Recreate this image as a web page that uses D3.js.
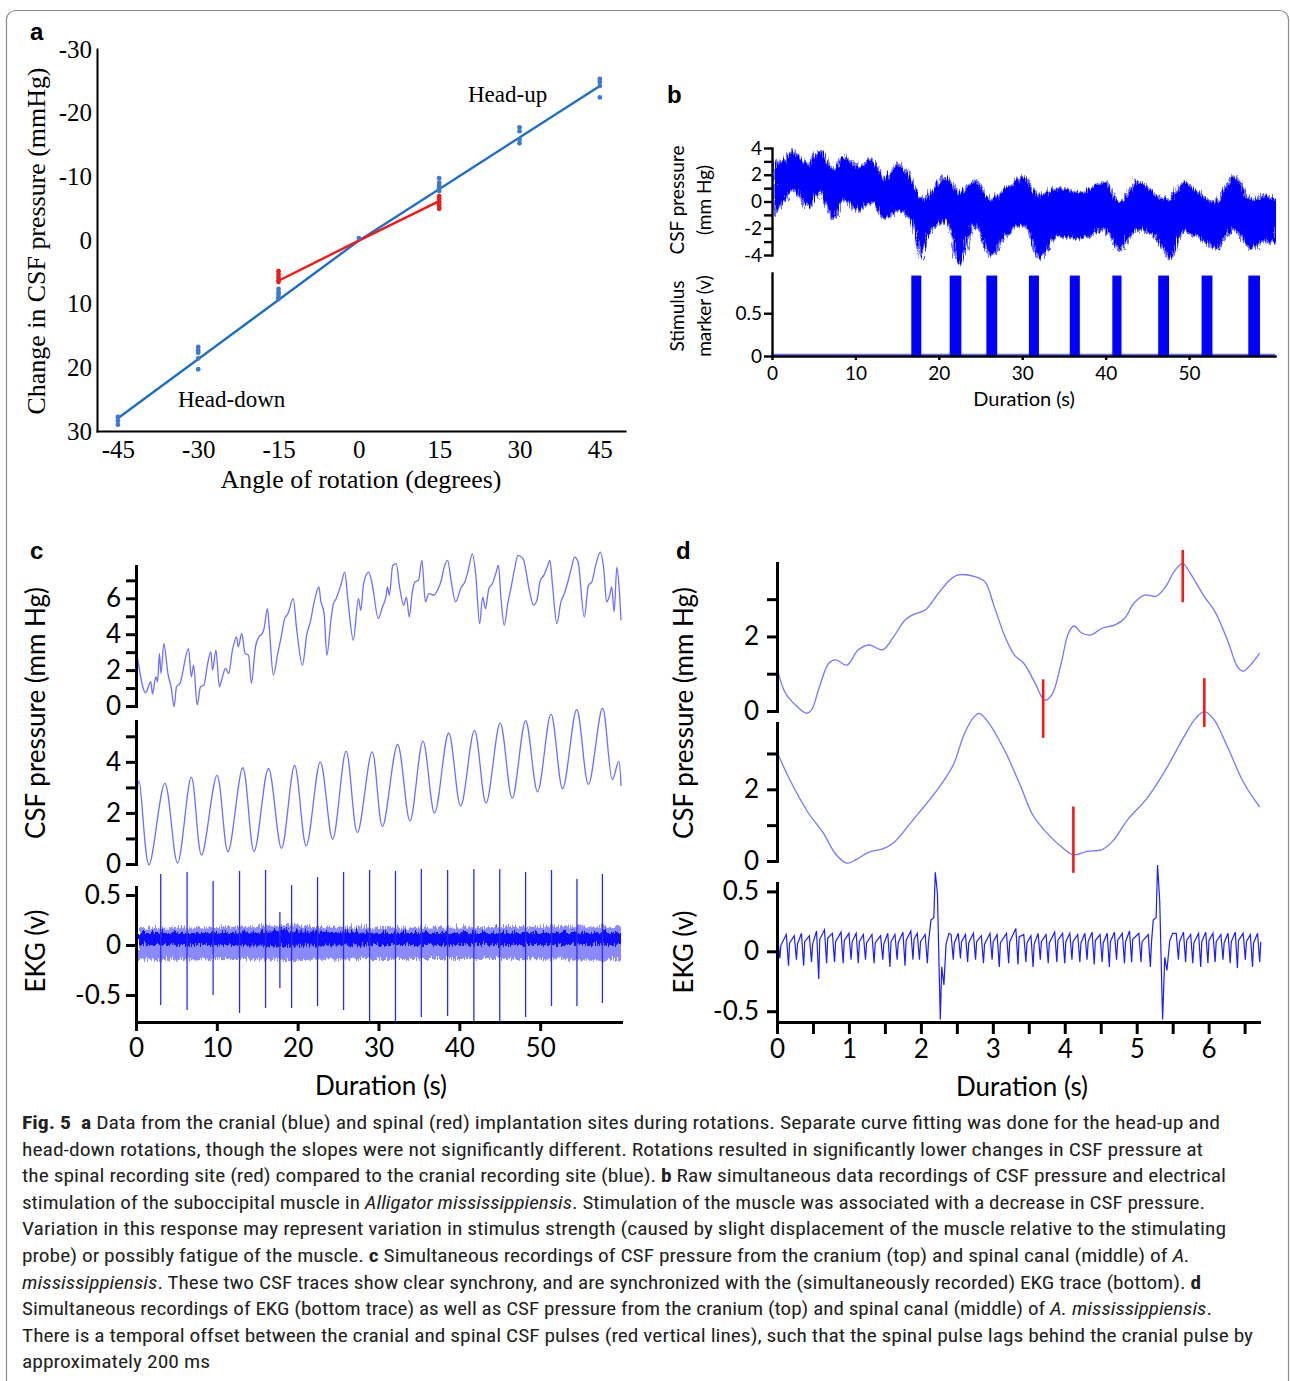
<!DOCTYPE html>
<html>
<head>
<meta charset="utf-8">
<title>Fig. 5</title>
<script src="https://cdnjs.cloudflare.com/ajax/libs/d3/7.8.5/d3.min.js"></script>
<style>
  body { margin: 0; background: #fff; }
  svg { display: block; }
</style>
</head>
<body>
<svg id="fig" width="1290" height="1381"></svg>
<script>
// ---------------- panel a : rotation vs CSF pressure ----------------
const angleTicks = [-45, -30, -15, 0, 15, 30, 45];
const pressureTicks = [-30, -20, -10, 0, 10, 20, 30];
const cranialPoints = [
  [-45, 27.8], [-45, 28.4], [-45, 29.0],
  [-30, 16.8], [-30, 17.3], [-30, 17.7], [-30, 18.6], [-30, 20.3],
  [-15, 7.7], [-15, 8.2], [-15, 8.6], [-15, 9.0], [-15, 9.3],
  [0, -0.3],
  [15, -9.7], [15, -9.0], [15, -8.5], [15, -8.1], [15, -7.7],
  [30, -17.7], [30, -17.1], [30, -15.8], [30, -15.2],
  [45, -25.3], [45, -24.8], [45, -24.2], [45, -22.4]
];
const spinalPoints = [
  [-15, 4.9], [-15, 5.4], [-15, 5.9], [-15, 6.3], [-15, 6.6],
  [15, -6.9], [15, -6.5], [15, -6.1], [15, -5.6], [15, -5.2], [15, -4.9]
];
const cranialFitDown = [[-45, 28.0], [0, 0.1]];
const cranialFitUp = [[0, 0.1], [45, -24.2]];
const spinalFit = [[-15, 6.4], [0, 0.1], [15, -6.1]];

// ---------------- panel b : stimulation ----------------
const bTime  = [0, 1.2, 2.3, 3.2, 4.0, 5.5, 7.0, 8.4, 9.9, 11.8, 13.1, 14.8, 16.7, 17.7, 18.6, 20.6, 22.2, 24.0,
                25.9, 27.7, 29.9, 31.8, 33.9, 36.8, 39.6, 41.3, 43.6, 45.8, 47.4, 49.0, 51.0, 52.9, 55.1, 57.2, 58.8, 60.3];
const bUpper = [3.1, 3.2, 4.0, 3.3, 3.0, 4.0, 2.6, 3.5, 2.8, 3.3, 1.8, 3.0, 1.6, 0.35, 0.8, 2.0, 0.8, 1.8,
                0.35, 1.1, 2.0, 0.6, 1.2, 0.8, 1.7, 0.1, 1.7, 0.6, 0.35, 1.6, 0.8, 0.1, 2.1, 0.35, 0.6, 0.35];
const bLower = [-0.8, 0.2, 1.0, 0.4, -0.3, 0.8, -1.1, 0.35, -0.5, 0.1, -1.1, -0.5, -1.6, -4.1, -2.1, -1.4, -4.5, -1.6,
                -3.9, -2.4, -1.6, -4.1, -2.4, -2.6, -1.9, -3.4, -1.9, -2.6, -4.1, -2.1, -2.6, -3.4, -1.9, -3.4, -2.8, -3.1];
const stimOn  = [16.7, 21.3, 25.7, 30.8, 35.7, 40.8, 46.3, 51.5, 57.1];
const stimOff = [17.9, 22.7, 27.0, 32.0, 36.9, 41.9, 47.6, 52.8, 58.5];
const stimLevel = 0.94;
const bTimeTicks = [0, 10, 20, 30, 40, 50];
const bCsfTicks = [-4, -3, -2, -1, 0, 1, 2, 3, 4];
const bStimTicks = [0, 0.5];

// ---------------- panel c : 60 s recordings ----------------
const cCranial = [
  [0.2, 2.65], [1.19, 0.74], [1.83, 1.35], [2.04, 0.67], [2.46, 1.63], [2.68, 1.35], [2.89, 2.93], [3.10, 1.81],
  [3.44, 3.48], [3.95, 1.81], [4.37, 0.98], [4.71, -0.04], [5.01, 1.07], [5.44, 1.26], [6.50, 3.20], [6.84, 1.63],
  [7.13, 2.28], [7.56, 0.06], [7.98, 1.07], [8.41, 1.17], [8.83, 2.28], [9.26, 3.02], [9.47, 2.00], [9.89, 3.11],
  [10.32, 1.07], [10.53, 1.35], [11.08, 2.09], [11.46, 1.81], [11.93, 3.11], [12.44, 3.85], [12.65, 3.30], [13.08, 4.04],
  [13.50, 2.93], [13.93, 2.83], [14.27, 1.26], [14.78, 3.30], [15.20, 3.85], [15.63, 4.04], [15.84, 4.31], [16.26, 5.43],
  [16.48, 4.41], [16.99, 1.72], [17.54, 2.93], [17.96, 3.85], [18.39, 4.87], [18.81, 5.15], [19.45, 5.98], [19.87, 4.31],
  [20.59, 2.28], [21.15, 4.04], [21.57, 4.69], [22.00, 5.70], [22.63, 6.63], [22.85, 5.89], [23.27, 5.15], [23.61, 2.83],
  [24.12, 4.78], [24.42, 5.70], [24.76, 5.98], [25.39, 6.81], [25.82, 7.46], [26.24, 5.80], [26.88, 3.67], [27.52, 5.98],
  [27.81, 5.33], [28.15, 6.81], [28.79, 7.46], [29.21, 6.81], [29.98, 4.87], [30.49, 5.52], [30.91, 6.07], [31.12, 6.63],
  [31.34, 6.17], [31.76, 7.83], [32.19, 7.93], [32.61, 6.63], [33.12, 5.61], [33.46, 6.07], [33.80, 4.96], [34.18, 6.35],
  [34.52, 6.91], [34.95, 7.00], [35.37, 8.11], [35.80, 5.80], [36.22, 6.26], [36.86, 6.17], [37.28, 6.44], [37.71, 6.91],
  [38.13, 7.74], [38.56, 8.11], [38.98, 7.00], [39.53, 5.80], [40.25, 6.63], [40.68, 6.91], [41.10, 7.56], [41.61, 8.48],
  [42.04, 7.28], [42.51, 4.59], [42.89, 6.07], [43.23, 5.43], [43.65, 6.54], [44.08, 6.81], [44.50, 7.37], [44.84, 7.83],
  [45.14, 6.07], [45.56, 4.50], [45.99, 5.70], [46.41, 6.63], [46.84, 7.65], [47.26, 8.39], [47.90, 8.20], [48.66, 6.44],
  [49.17, 5.61], [49.60, 5.89], [50.02, 7.00], [50.45, 7.28], [50.87, 7.74], [51.21, 8.11], [51.51, 6.81], [52.06, 4.59],
  [52.57, 5.80], [52.99, 6.26], [53.42, 6.91], [53.84, 7.65], [54.27, 8.30], [54.69, 8.02], [55.46, 4.96], [55.97, 6.72],
  [56.39, 6.91], [56.82, 7.74], [57.45, 8.57], [57.88, 7.56], [58.22, 5.80], [58.60, 6.17], [58.85, 6.63], [59.15, 5.24],
  [59.49, 7.74], [59.79, 6.44], [60.0, 4.78]
];
const cSpinal = [
  [0.0, 2.4], [0.38, 3.25], [1.61, -0.03], [3.57, 3.16], [5.14, 0.04], [6.84, 3.40], [8.11, 0.35], [10.02, 3.47],
  [11.38, 0.48], [13.21, 3.77], [14.61, 0.49], [16.39, 3.74], [18.00, 0.61], [19.62, 3.86], [21.06, 0.71], [22.80, 3.99],
  [24.33, 0.97], [25.99, 4.42], [27.39, 1.23], [29.21, 4.39], [30.49, 1.47], [32.36, 4.68], [33.89, 1.69], [35.50, 4.81],
  [36.94, 1.99], [38.68, 5.13], [40.17, 2.27], [41.87, 5.23], [43.31, 2.38], [45.05, 5.52], [46.54, 2.57], [48.20, 5.61],
  [49.68, 2.83], [51.34, 5.87], [52.78, 2.95], [54.52, 6.04], [55.97, 3.12], [57.71, 6.10], [58.94, 3.31], [59.7, 4.03],
  [60.0, 3.05]
];
const cBeatT   = [3.06, 6.32, 9.54, 12.81, 16.03, 17.8, 19.25, 22.46, 25.68, 28.9, 32.1, 35.3, 38.55, 41.8, 45.0, 48.2, 51.4, 54.55, 57.7];
const cBeatTop = [0.71, 0.73, 0.64, 0.74, 0.75, 0.33, 0.60, 0.68, 0.73, 0.75, 0.74, 0.76, 0.75, 0.76, 0.76, 0.73, 0.75, 0.66, 0.71];
const cBeatBot = [-0.60, -0.65, -0.50, -0.68, -0.63, -0.43, -0.63, -0.61, -0.65, -0.76, -0.76, -0.72, -0.71, -0.77, -0.77, -0.72, -0.61, -0.61, -0.58];
const cEkgT        = [0, 12, 17.5, 30, 45, 60];
const cEkgOuterTop = [0.19, 0.20, 0.22, 0.19, 0.20, 0.21];
const cEkgOuterBot = [-0.13, -0.12, -0.13, -0.12, -0.12, -0.13];
const cEkgCoreTop  = [0.15, 0.15, 0.17, 0.15, 0.15, 0.15];
const cEkgCoreBot  = [0.02, 0.02, 0.01, 0.02, 0.02, 0.02];
const cTimeTicks = [0, 10, 20, 30, 40, 50];
const cTopTicks = [0, 1, 2, 3, 4, 5, 6, 7];
const cMidTicks = [0, 1, 2, 3, 4, 5];
const ekgTicks = [-0.5, 0, 0.5];

// ---------------- panel d : 6.7 s recordings ----------------
const dCranial = [
  [0.0, 1.15], [0.12, 0.47], [0.28, 0.12], [0.41, -0.06], [0.48, 0.03], [0.59, 0.65], [0.72, 1.28], [0.82, 1.37],
  [0.97, 1.23], [1.13, 1.64], [1.28, 1.77], [1.47, 1.64], [1.62, 1.99], [1.78, 2.44], [1.91, 2.60], [2.06, 2.71],
  [2.24, 3.15], [2.40, 3.51], [2.52, 3.65], [2.76, 3.60], [2.89, 3.47], [3.02, 2.80], [3.17, 1.99], [3.30, 1.50],
  [3.43, 1.28], [3.59, 0.74], [3.72, 0.29], [3.82, 0.43], [3.95, 1.28], [4.05, 2.08], [4.13, 2.28], [4.23, 2.10],
  [4.36, 2.04], [4.52, 2.22], [4.70, 2.31], [4.83, 2.48], [4.96, 2.89], [5.11, 3.11], [5.27, 3.08], [5.40, 3.33],
  [5.52, 3.74], [5.64, 3.96], [5.73, 3.74], [5.94, 3.07], [6.09, 2.66], [6.27, 1.86], [6.40, 1.19], [6.48, 1.07],
  [6.58, 1.23], [6.71, 1.55]
];
const dSpinal = [
  [0.0, 3.05], [0.17, 2.30], [0.43, 1.36], [0.64, 0.79], [0.82, 0.18], [0.97, -0.06], [1.10, 0.04], [1.28, 0.25],
  [1.47, 0.34], [1.62, 0.51], [1.88, 1.12], [2.24, 2.02], [2.45, 2.68], [2.60, 3.53], [2.73, 4.00], [2.81, 4.12],
  [2.94, 3.86], [3.17, 3.06], [3.38, 2.12], [3.56, 1.27], [3.79, 0.70], [3.97, 0.37], [4.12, 0.17], [4.31, 0.27],
  [4.52, 0.32], [4.67, 0.56], [4.88, 1.17], [5.14, 1.74], [5.40, 2.54], [5.65, 3.44], [5.81, 3.96], [5.94, 4.17],
  [6.07, 3.96], [6.27, 3.15], [6.48, 2.21], [6.71, 1.50]
];
const dDipT = [0.04, 0.16, 0.27, 0.37, 0.48, 0.58, 0.69, 0.80, 0.92, 1.03, 1.13, 1.23, 1.35, 1.47, 1.57, 1.67, 1.78, 1.89, 1.98, 2.09,
               2.45, 2.55, 2.65, 2.76, 2.87, 2.99, 3.09, 3.22, 3.35, 3.46, 3.56, 3.66, 3.77, 3.89, 4.00, 4.10, 4.21, 4.31, 4.41, 4.52,
               4.62, 4.72, 4.83, 4.93, 5.06, 5.19,
               5.58, 5.68, 5.78, 5.89, 5.99, 6.09, 6.20, 6.30, 6.40, 6.51, 6.61, 6.71];
const dDipV = [-0.06, -0.12, -0.07, -0.12, -0.09, -0.23, -0.10, -0.09, -0.10, -0.07, -0.10, -0.07, -0.10, -0.07, -0.13, -0.07, -0.12, -0.07, -0.07, -0.10,
               -0.07, -0.06, -0.09, -0.07, -0.10, -0.07, -0.13, -0.10, -0.11, -0.09, -0.13, -0.07, -0.10, -0.09, -0.10, -0.07, -0.09, -0.07, -0.11, -0.09,
               -0.13, -0.07, -0.10, -0.09, -0.09, -0.13,
               -0.07, -0.09, -0.10, -0.13, -0.10, -0.09, -0.07, -0.10, -0.14, -0.07, -0.13, -0.09];
const dCrestV = [0.12, 0.14, 0.13, 0.15, 0.13, 0.17, 0.18, 0.15, 0.16, 0.15, 0.15, 0.14, 0.14, 0.13, 0.15, 0.14, 0.16, 0.17, 0.15, 0.14,
                 0.14, 0.15, 0.14, 0.15, 0.13, 0.15, 0.14, 0.15, 0.19, 0.14, 0.13, 0.15, 0.14, 0.16, 0.15, 0.15, 0.14, 0.15, 0.16, 0.14,
                 0.15, 0.16, 0.15, 0.17, 0.15, 0.14,
                 0.15, 0.16, 0.14, 0.15, 0.16, 0.15, 0.14, 0.15, 0.16, 0.15, 0.14, 0.15];
const dQrs = [
  [2.14, 0.26], [2.18, 0.28], [2.20, 0.66], [2.23, 0.48], [2.27, -0.57], [2.29, -0.13], [2.32, -0.28], [2.35, 0.06], [2.39, 0.15],
  [5.23, 0.26], [5.27, 0.28], [5.29, 0.72], [5.32, 0.42], [5.36, -0.57], [5.39, -0.05], [5.42, -0.16], [5.46, 0.09], [5.50, 0.15]
];
const lagMarkT = [3.70, 4.12, 5.64, 5.94];
const lagMarkTrace = ['top', 'mid', 'top', 'mid'];
const lagMarkV0 = [0.85, 1.52, 4.32, 5.10];
const lagMarkV1 = [-0.72, -0.33, 2.92, 3.74];
const dTimeTicks = [0, 0.5, 1, 1.5, 2, 2.5, 3, 3.5, 4, 4.5, 5, 5.5, 6, 6.5];
const dCsfTicks = [0, 1, 2, 3];

// ---------------- caption ----------------
const captionLines = [
  [['b', 'Fig. 5'], ['n', '  '], ['b', 'a'], ['n', ' Data from the cranial (blue) and spinal (red) implantation sites during rotations. Separate curve fitting was done for the head-up and']],
  [['n', 'head-down rotations, though the slopes were not significantly different. Rotations resulted in significantly lower changes in CSF pressure at']],
  [['n', 'the spinal recording site (red) compared to the cranial recording site (blue). '], ['b', 'b'], ['n', ' Raw simultaneous data recordings of CSF pressure and electrical']],
  [['n', 'stimulation of the suboccipital muscle in '], ['i', 'Alligator mississippiensis'], ['n', '. Stimulation of the muscle was associated with a decrease in CSF pressure.']],
  [['n', 'Variation in this response may represent variation in stimulus strength (caused by slight displacement of the muscle relative to the stimulating']],
  [['n', 'probe) or possibly fatigue of the muscle. '], ['b', 'c'], ['n', ' Simultaneous recordings of CSF pressure from the cranium (top) and spinal canal (middle) of '], ['i', 'A.']],
  [['i', 'mississippiensis'], ['n', '. These two CSF traces show clear synchrony, and are synchronized with the (simultaneously recorded) EKG trace (bottom). '], ['b', 'd']],
  [['n', 'Simultaneous recordings of EKG (bottom trace) as well as CSF pressure from the cranium (top) and spinal canal (middle) of '], ['i', 'A. mississippiensis'], ['n', '.']],
  [['n', 'There is a temporal offset between the cranial and spinal CSF pulses (red vertical lines), such that the spinal pulse lags behind the cranial pulse by']],
  [['n', 'approximately 200 ms']]
];
const captionLineEnd = [1220, 1203, 1226, 1205, 1226, 1190, 1201, 1212, 1253, 210];

// ================= drawing =================
const svg = d3.select('#fig');
const SERIF = "'Liberation Serif', 'Times New Roman', serif";
const SANS = "Lato, 'Open Sans', sans-serif";
const ARIAL = "'Liberation Sans', Arial, sans-serif";

// frame
svg.append('rect')
  .attr('x', 6.5).attr('y', 10.5).attr('width', 1282).attr('height', 1420).attr('rx', 9)
  .attr('fill', 'none').attr('stroke', '#8a8a8a').attr('stroke-width', 1.2);

// roughening filter for the noisy recordings
const defs = svg.append('defs');
const rough = defs.append('filter').attr('id', 'rough')
  .attr('x', '-2%').attr('y', '-30%').attr('width', '104%').attr('height', '160%');
rough.append('feTurbulence').attr('type', 'turbulence').attr('baseFrequency', '0.9 0.06')
  .attr('numOctaves', 2).attr('seed', 4).attr('result', 'n');
rough.append('feDisplacementMap').attr('in', 'SourceGraphic').attr('in2', 'n')
  .attr('scale', 9).attr('xChannelSelector', 'R').attr('yChannelSelector', 'G');

// clip boxes so the roughened bands stay inside their plots
defs.append('clipPath').attr('id', 'clipB').append('rect')
  .attr('x', 773).attr('y', 130).attr('width', 503).attr('height', 140);
defs.append('clipPath').attr('id', 'clipC').append('rect')
  .attr('x', 137).attr('y', 880).attr('width', 484).attr('height', 141);

function styleAxis(g, font, size, sw) {
  g.attr('font-family', font).attr('font-size', size);
  g.selectAll('path, line').attr('stroke', '#000').attr('stroke-width', sw);
  g.select('.domain').attr('stroke-linecap', 'square');
  g.selectAll('text').attr('fill', '#000');
}

function panelLabel(x, y, t) {
  svg.append('text').attr('x', x).attr('y', y).attr('font-family', ARIAL)
    .attr('font-weight', 'bold').attr('font-size', 24).text(t);
}

function vTitle(x, y, t, font, size, len) {
  const el = svg.append('text')
    .attr('transform', `translate(${x},${y}) rotate(-90)`)
    .attr('text-anchor', 'middle').attr('dy', '0.35em')
    .attr('font-family', font).attr('font-size', size).text(t);
  if (len) el.attr('textLength', len).attr('lengthAdjust', 'spacingAndGlyphs');
}

// ---------- panel a ----------
panelLabel(30, 40, 'a');
const xA = d3.scaleLinear().domain([-48.9, 49.7]).range([97, 625]);
const yA = d3.scaleLinear().domain([-30, 30]).range([49, 431]);

const axA_y = svg.append('g').attr('transform', 'translate(97,0)')
  .call(d3.axisLeft(yA).tickValues(pressureTicks).tickSizeInner(0).tickSizeOuter(0).tickPadding(5).tickFormat(d => String(d)));
styleAxis(axA_y, SERIF, 25, 2);
const axA_x = svg.append('g').attr('transform', 'translate(0,431)')
  .call(d3.axisBottom(xA).tickValues(angleTicks).tickSizeInner(0).tickSizeOuter(0).tickPadding(9).tickFormat(d => String(d)));
styleAxis(axA_x, SERIF, 25, 2);

const lineA = d3.line().x(d => xA(d[0])).y(d => yA(d[1]));
svg.append('path').attr('d', lineA(cranialFitDown)).attr('fill', 'none').attr('stroke', '#1c6fc4').attr('stroke-width', 2.4);
svg.append('path').attr('d', lineA(cranialFitUp)).attr('fill', 'none').attr('stroke', '#1c6fc4').attr('stroke-width', 2.4);
svg.append('path').attr('d', lineA(spinalFit)).attr('fill', 'none').attr('stroke', '#f21818').attr('stroke-width', 2.4);
svg.append('g').selectAll('circle').data(cranialPoints).join('circle')
  .attr('cx', d => xA(d[0])).attr('cy', d => yA(d[1])).attr('r', 2.4).attr('fill', '#3f78cc');
svg.append('g').selectAll('circle').data(spinalPoints).join('circle')
  .attr('cx', d => xA(d[0])).attr('cy', d => yA(d[1])).attr('r', 2.4).attr('fill', '#ee1c1c');

svg.append('text').attr('x', 468).attr('y', 102).attr('font-family', SERIF).attr('font-size', 23).text('Head-up');
svg.append('text').attr('x', 178).attr('y', 407).attr('font-family', SERIF).attr('font-size', 23).text('Head-down');
svg.append('text').attr('x', 361).attr('y', 488).attr('text-anchor', 'middle').attr('font-family', SERIF)
  .attr('font-size', 25).attr('textLength', 281).attr('lengthAdjust', 'spacingAndGlyphs').text('Angle of rotation (degrees)');
vTitle(36, 241, 'Change in CSF pressure (mmHg)', SERIF, 25, 347);

// ---------- panel b ----------
panelLabel(667, 103, 'b');
const xB = d3.scaleLinear().domain([0, 60.3]).range([772, 1275]);
const yB1 = d3.scaleLinear().domain([-4, 4]).range([255, 148]);
const yB2 = d3.scaleLinear().domain([0, 0.97]).range([356, 273]);

const bBand = bTime.map((t, i) => ({ t, lo: bLower[i], hi: bUpper[i] }));
svg.append('g').attr('clip-path', 'url(#clipB)').append('path')
  .attr('d', d3.area().curve(d3.curveMonotoneX).x(d => xB(d.t)).y0(d => yB1(d.lo)).y1(d => yB1(d.hi))(bBand))
  .attr('fill', '#0000ff').attr('stroke', '#6d6dff').attr('stroke-width', 2).attr('filter', 'url(#rough)');

svg.append('line').attr('x1', xB(0)).attr('x2', xB(60.3)).attr('y1', yB2(0.015)).attr('y2', yB2(0.015))
  .attr('stroke', '#6a6aff').attr('stroke-width', 2);
svg.append('g').selectAll('rect').data(stimOn).join('rect')
  .attr('x', (d, i) => xB(d)).attr('width', (d, i) => xB(stimOff[i]) - xB(d))
  .attr('y', yB2(stimLevel)).attr('height', yB2(0) - yB2(stimLevel)).attr('fill', '#0000ff');

const axB1 = svg.append('g').attr('transform', 'translate(772,0)')
  .call(d3.axisLeft(yB1).tickValues(bCsfTicks).tickSize(8).tickSizeOuter(0).tickPadding(2).tickFormat(d => d % 2 ? '' : String(d)));
styleAxis(axB1, SANS, 19, 2.4);
const axB2 = svg.append('g').attr('transform', 'translate(772,0)')
  .call(d3.axisLeft(yB2).tickValues(bStimTicks).tickSize(8).tickSizeOuter(0).tickPadding(2).tickFormat(d => String(d)));
styleAxis(axB2, SANS, 19, 2.4);
const axB3 = svg.append('g').attr('transform', 'translate(0,356)')
  .call(d3.axisBottom(xB).tickValues(bTimeTicks).tickSize(4).tickSizeOuter(0).tickPadding(7).tickFormat(d => String(d)));
styleAxis(axB3, SANS, 19, 2.4);
svg.append('text').attr('x', 1024).attr('y', 406).attr('text-anchor', 'middle').attr('font-family', SANS).attr('font-size', 20).text('Duration (s)');
vTitle(677, 200, 'CSF pressure', SANS, 19);
vTitle(704, 200, '(mm Hg)', SANS, 19);
vTitle(677, 316, 'Stimulus', SANS, 19);
vTitle(704, 316, 'marker (v)', SANS, 19);

// ---------- panel c ----------
panelLabel(30, 559, 'c');
const xC = d3.scaleLinear().domain([0, 60]).range([136, 621]);
const yC1 = d3.scaleLinear().domain([0, 7.8]).range([706, 566]);
const yC2 = d3.scaleLinear().domain([0, 5.6]).range([864, 721]);
const yC3 = d3.scaleLinear().domain([-0.77, 0.58]).range([1022, 887]);

svg.append('path').attr('d', d3.line().curve(d3.curveMonotoneX).x(d => xC(d[0])).y(d => yC1(d[1]))(cCranial))
  .attr('fill', 'none').attr('stroke', '#6e6eff').attr('stroke-width', 1.3);
svg.append('path').attr('d', d3.line().curve(d3.curveCatmullRom).x(d => xC(d[0])).y(d => yC2(d[1]))(cSpinal))
  .attr('fill', 'none').attr('stroke', '#6e6eff').attr('stroke-width', 1.3);

const cBand = cEkgT.map((t, i) => ({ t, ot: cEkgOuterTop[i], ob: cEkgOuterBot[i], ct: cEkgCoreTop[i], cb: cEkgCoreBot[i] }));
const gCekg = svg.append('g').attr('clip-path', 'url(#clipC)');
gCekg.append('path').attr('d', d3.area().x(d => xC(d.t)).y0(d => yC3(d.ob)).y1(d => yC3(d.ot))(cBand))
  .attr('fill', '#8a8aff').attr('filter', 'url(#rough)');
gCekg.append('path').attr('d', d3.area().x(d => xC(d.t)).y0(d => yC3(d.cb)).y1(d => yC3(d.ct))(cBand))
  .attr('fill', '#0f0fff').attr('filter', 'url(#rough)');
svg.append('g').selectAll('line').data(cBeatT).join('line')
  .attr('x1', d => xC(d)).attr('x2', d => xC(d))
  .attr('y1', (d, i) => yC3(cBeatTop[i])).attr('y2', (d, i) => yC3(Math.max(cBeatBot[i], -0.77)))
  .attr('stroke', '#2a2aff').attr('stroke-width', 1.3);

const axC1 = svg.append('g').attr('transform', 'translate(136,0)')
  .call(d3.axisLeft(yC1).tickValues(cTopTicks).tickSize(10).tickSizeOuter(0).tickPadding(5).tickFormat(d => d % 2 ? '' : String(d)));
styleAxis(axC1, SANS, 26, 3);
const axC2 = svg.append('g').attr('transform', 'translate(136,0)')
  .call(d3.axisLeft(yC2).tickValues(cMidTicks).tickSize(10).tickSizeOuter(0).tickPadding(5).tickFormat(d => d % 2 ? '' : String(d)));
styleAxis(axC2, SANS, 26, 3);
const axC3 = svg.append('g').attr('transform', 'translate(136,0)')
  .call(d3.axisLeft(yC3).tickValues(ekgTicks).tickSize(10).tickSizeOuter(0).tickPadding(5).tickFormat(d => String(d)));
styleAxis(axC3, SANS, 26, 3);
const axC4 = svg.append('g').attr('transform', 'translate(0,1022)')
  .call(d3.axisBottom(xC).tickValues(cTimeTicks).tickSize(9).tickSizeOuter(0).tickPadding(8).tickFormat(d => String(d)));
styleAxis(axC4, SANS, 26, 3);
svg.append('text').attr('x', 381).attr('y', 1095).attr('text-anchor', 'middle').attr('font-family', SANS).attr('font-size', 26).text('Duration (s)');
vTitle(36, 713, 'CSF pressure (mm Hg)', SANS, 26);
vTitle(36, 951, 'EKG (v)', SANS, 26);

// ---------- panel d ----------
panelLabel(676, 559, 'd');
const xD = d3.scaleLinear().domain([0, 6.7]).range([777, 1259]);
const yD1 = d3.scaleLinear().domain([0, 3.97]).range([711, 563]);
const yD2 = d3.scaleLinear().domain([0, 3.85]).range([861, 723]);
const yD3 = d3.scaleLinear().domain([-0.59, 0.57]).range([1022, 883]);

svg.append('path').attr('d', d3.line().curve(d3.curveCatmullRom).x(d => xD(d[0])).y(d => yD1(d[1]))(dCranial))
  .attr('fill', 'none').attr('stroke', '#7676ff').attr('stroke-width', 1.3);
svg.append('path').attr('d', d3.line().curve(d3.curveCatmullRom).x(d => xD(d[0])).y(d => yD2(d[1]))(dSpinal))
  .attr('fill', 'none').attr('stroke', '#7676ff').attr('stroke-width', 1.3);

// EKG: each ripple drawn as crest -> dip -> recovery, plus the two QRS complexes
const dEkg = [[0, -0.04]];
dDipT.forEach((t, i) => {
  dEkg.push([t - 0.03, dCrestV[i]], [t, dDipV[i]], [t + 0.015, dCrestV[i] - 0.07]);
});
dQrs.forEach(p => dEkg.push(p));
dEkg.sort((a, b) => a[0] - b[0]);
svg.append('path').attr('d', d3.line().x(d => xD(d[0])).y(d => yD3(d[1]))(dEkg))
  .attr('fill', 'none').attr('stroke', '#1c1cff').attr('stroke-width', 1.2);

svg.append('g').selectAll('line').data(lagMarkT).join('line')
  .attr('x1', d => xD(d)).attr('x2', d => xD(d))
  .attr('y1', (d, i) => (lagMarkTrace[i] === 'top' ? yD1 : yD2)(lagMarkV0[i]))
  .attr('y2', (d, i) => (lagMarkTrace[i] === 'top' ? yD1 : yD2)(lagMarkV1[i]))
  .attr('stroke', '#f51b1b').attr('stroke-width', 2.6);

const axD1 = svg.append('g').attr('transform', 'translate(777,0)')
  .call(d3.axisLeft(yD1).tickValues(dCsfTicks).tickSize(10).tickSizeOuter(0).tickPadding(8).tickFormat(d => d % 2 ? '' : String(d)));
styleAxis(axD1, SANS, 26, 3);
const axD2 = svg.append('g').attr('transform', 'translate(777,0)')
  .call(d3.axisLeft(yD2).tickValues(dCsfTicks).tickSize(10).tickSizeOuter(0).tickPadding(8).tickFormat(d => d % 2 ? '' : String(d)));
styleAxis(axD2, SANS, 26, 3);
const axD3 = svg.append('g').attr('transform', 'translate(777,0)')
  .call(d3.axisLeft(yD3).tickValues(ekgTicks).tickSize(10).tickSizeOuter(0).tickPadding(8).tickFormat(d => String(d)));
styleAxis(axD3, SANS, 26, 3);
const axD4 = svg.append('g').attr('transform', 'translate(0,1022)')
  .call(d3.axisBottom(xD).tickValues(dTimeTicks).tickSize(12).tickSizeOuter(0).tickPadding(6)
    .tickFormat(d => Number.isInteger(d) ? String(d) : ''));
styleAxis(axD4, SANS, 26, 3);
svg.append('text').attr('x', 1022).attr('y', 1096).attr('text-anchor', 'middle').attr('font-family', SANS).attr('font-size', 26).text('Duration (s)');
vTitle(684, 713, 'CSF pressure (mm Hg)', SANS, 26);
vTitle(684, 952, 'EKG (v)', SANS, 26);

// ---------- caption ----------
const CAP = "'Liberation Sans Narrow', 'Roboto Condensed', Roboto, sans-serif";
captionLines.forEach((parts, i) => {
  const t = svg.append('text')
    .attr('x', 22).attr('y', 1129 + i * 26.6)
    .attr('font-family', CAP).attr('font-size', 19).attr('fill', '#231f20')
    .style('white-space', 'pre')
    .attr('textLength', captionLineEnd[i] - 22).attr('lengthAdjust', 'spacingAndGlyphs');
  parts.forEach(([kind, s]) => {
    t.append('tspan')
      .attr('font-weight', kind === 'b' ? 'bold' : null)
      .attr('font-style', kind === 'i' ? 'italic' : null)
      .text(s);
  });
});
</script>
</body>
</html>
